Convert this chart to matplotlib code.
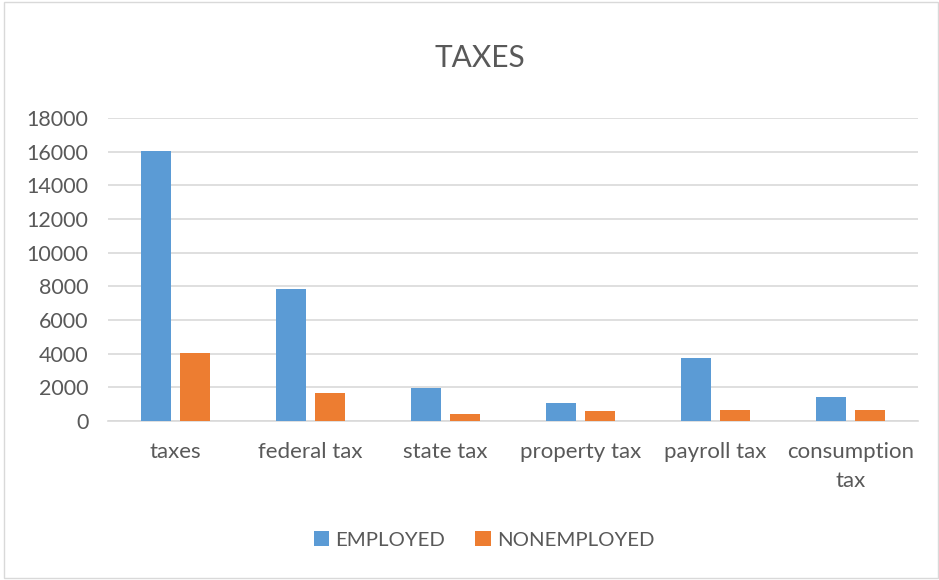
import matplotlib
matplotlib.use("Agg")
import matplotlib.pyplot as plt
import numpy as np
from matplotlib.patches import Rectangle

categories = ["taxes", "federal tax", "state tax", "property tax", "payroll tax", "consumption\ntax"]
employed = [16050, 7820, 1980, 1040, 3740, 1450]
nonemployed = [4020, 1660, 390, 590, 680, 640]
yticks = [0, 2000, 4000, 6000, 8000, 10000, 12000, 14000, 16000, 18000]

plt.rcParams['font.family'] = ['Lato', 'DejaVu Sans']
txt = '#595959'

fig = plt.figure(figsize=(9.39, 5.80), dpi=100)
ax = fig.add_axes([108/939, 1-421/580, 810/939, 303/580])

x = np.arange(len(categories))
w = 0.222
off = 0.141
ax.bar(x - off, employed, w, color='#5B9BD5', label='EMPLOYED', zorder=3)
ax.bar(x + off, nonemployed, w, color='#ED7D31', label='NONEMPLOYED', zorder=3)

ax.set_xlim(-0.5, len(categories) - 0.5)
ax.set_ylim(0, 18000)
ax.set_yticks(yticks)
ax.set_yticklabels([str(v) for v in yticks], color=txt, fontsize=15.5)
ax.set_xticks(x)
ax.set_xticklabels(categories, color=txt, fontsize=16, linespacing=1.55)
ax.tick_params(axis='both', length=0)
ax.tick_params(axis='y', pad=14)
ax.tick_params(axis='x', pad=15)
ax.grid(axis='y', color='#D9D9D9', linewidth=1.2, zorder=0)
for s in ['top', 'right', 'left']:
    ax.spines[s].set_visible(False)
ax.spines['bottom'].set_color('#D9D9D9')
ax.spines['bottom'].set_linewidth(1.2)

fig.text(480/939, 1-58/580, "TAXES", ha='center', va='center', fontsize=21.5, color=txt)

leg = fig.legend(loc='center', bbox_to_anchor=(484/939, 1-540/580), ncol=2, frameon=False,
                 fontsize=14.7, handlelength=0.75, handleheight=0.75, columnspacing=1.5, handletextpad=0.3)
for t in leg.get_texts():
    t.set_color(txt)

fig.patches.append(Rectangle((4/939, 2/580), 934/939, 576/580, transform=fig.transFigure,
                             fill=False, edgecolor='#D9D9D9', linewidth=1))

fig.savefig("out.png", dpi=100)
